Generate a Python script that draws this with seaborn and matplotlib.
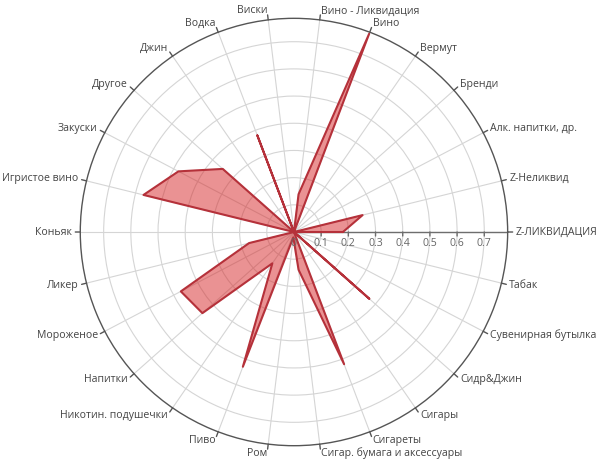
import numpy as np
import pandas as pd
import matplotlib
matplotlib.use("Agg")
import matplotlib.pyplot as plt
import seaborn as sns

categories = [
    "Z-ЛИКВИДАЦИЯ", "Z-Неликвид", "Алк. напитки, др.", "Бренди", "Вермут",
    "Вино", "Вино - Ликвидация", "Виски", "Водка", "Джин", "Другое",
    "Закуски", "Игристое вино", "Коньяк", "Ликер", "Мороженое", "Напитки",
    "Никотин. подушечки", "Пиво", "Ром", "Сигар. бумага и аксессуары",
    "Сигареты", "Сигары", "Сидр&Джин", "Сувенирная бутылка", "Табак",
]
values = [
    0.18, 0.26, 0.0, 0.0, 0.0,
    0.78, 0.14, 0.0, 0.38, 0.0, 0.35,
    0.48, 0.57, 0.0, 0.17, 0.47, 0.45,
    0.14, 0.53, 0.02, 0.14,
    0.52, 0.0, 0.37, 0.0, 0.0,
]
radial_ticks = [0.0, 0.1, 0.2, 0.3, 0.4, 0.5, 0.6, 0.7]
radial_labels = ["0", "0.1", "0.2", "0.3", "0.4", "0.5", "0.6", "0.7"]
RMAX = 0.786

sns.set_theme(style="white")
plt.rcParams["font.family"] = ["Open Sans", "DejaVu Sans"]

n = len(categories)
theta = np.arange(n) * 2 * np.pi / n
df = pd.DataFrame({
    "theta": np.append(theta, theta[0]),
    "value": np.append(values, values[0]),
})

fig = plt.figure(figsize=(6.0, 4.72), dpi=100)
ax = fig.add_axes([0.1338, 0.0557, 0.7123, 0.9055], projection="polar")
ax.set_facecolor("white")

ax.set_ylim(0, RMAX)
ax.set_xticks(theta)
ax.set_xticklabels([])
ax.set_yticks(radial_ticks[1:])
ax.set_yticklabels([])
ax.tick_params(length=0)
ax.xaxis.grid(True, color="#d5d5d5", lw=0.8)
ax.yaxis.grid(True, color="#d5d5d5", lw=0.8)
ax.spines["polar"].set_color("#555555")
ax.spines["polar"].set_linewidth(1.0)

# axis line along 0°
ax.plot([0, 0], [0, RMAX], color="#6e6e6e", lw=1.0, zorder=2)

# data
ax.fill(df["theta"], df["value"], color="#d62728", alpha=0.5, lw=0, zorder=3)
sns.lineplot(data=df, x="theta", y="value", sort=False, estimator=None,
             color="#b5313a", lw=1.5, ax=ax, zorder=4)
ax.set_xlabel("")
ax.set_ylabel("")
ax.set_ylim(0, RMAX)

px = 72.0 / 100.0  # points per pixel
# spoke ticks and category labels
for t, lab in zip(theta, categories):
    c, s = np.cos(t), np.sin(t)
    ax.annotate("", xy=(t, RMAX), xytext=(c * 5 * px, s * 5 * px),
                textcoords="offset points", annotation_clip=False,
                arrowprops=dict(arrowstyle="-", color="#555555", lw=1.0,
                                shrinkA=0, shrinkB=0))
    if c > 0.01:
        ha = "left"
    elif c < -0.01:
        ha = "right"
    else:
        ha = "center"
    ax.annotate(lab, xy=(t, RMAX), xytext=(c * 8 * px, s * 9 * px),
                textcoords="offset points", ha=ha, va="center",
                fontsize=7.6, color="#444444", annotation_clip=False)

# radial tick marks and labels (labels placed in figure coords, on top)
fig.canvas.draw()
W, H = fig.get_size_inches() * fig.dpi
for r, lab in zip(radial_ticks, radial_labels):
    if r > 0:
        ax.annotate("", xy=(0, r), xytext=(0, -4 * px),
                    textcoords="offset points", annotation_clip=False,
                    arrowprops=dict(arrowstyle="-", color="#6e6e6e", lw=1.0,
                                    shrinkA=0, shrinkB=0))
    xd, yd = ax.transData.transform((0.0, r))
    fig.text(xd / W, (yd - 6) / H, lab, ha="center", va="top",
             fontsize=7.6, color="#666666", zorder=10)

fig.savefig("out.png", dpi=100, facecolor="white")
